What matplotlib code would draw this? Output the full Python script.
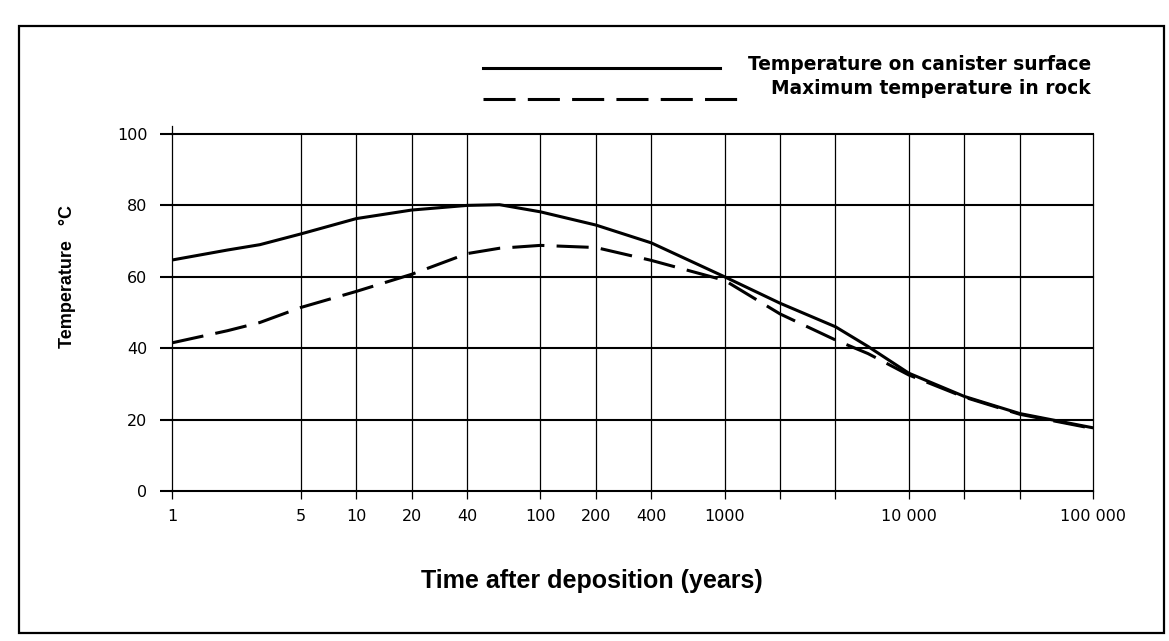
import matplotlib
matplotlib.use("Agg")
import matplotlib.pyplot as plt
from matplotlib import font_manager
from matplotlib.lines import Line2D
from matplotlib.patches import Rectangle
from matplotlib.ticker import NullLocator

# values
years = [1, 2, 3, 5, 10, 20, 40, 60, 100, 200, 400, 1000, 2000, 4000,
         6000, 10000, 20000, 40000, 100000]
canister = [64.7, 67.5, 69.0, 72.0, 76.3, 78.7, 80.0, 80.2, 78.2, 74.5,
            69.5, 60.0, 52.6, 46.0, 40.5, 33.0, 26.5, 21.7, 17.7]
rock = [41.5, 44.9, 47.2, 51.4, 55.9, 60.7, 66.5, 68.0, 68.8, 68.2,
        64.6, 59.0, 49.6, 42.3, 38.5, 32.5, 26.3, 21.5, 17.5]

grid_years = [1, 5, 10, 20, 40, 100, 200, 400, 1000, 2000, 4000,
              10000, 20000, 40000, 100000]
label_years = [1, 5, 10, 20, 40, 100, 200, 400, 1000, 10000, 100000]
label_text = ['1', '5', '10', '20', '40', '100', '200', '400', '1000',
              '10 000', '100 000']
temp_ticks = [0, 20, 40, 60, 80, 100]

W, H = 1169, 641
dash = (0, (10.5, 4))

names = {f.name for f in font_manager.fontManager.ttflist}
if 'Liberation Sans Narrow' in names:
    cond = 'Liberation Sans Narrow'
    ysize, xsize = 16.5, 21
else:
    cond = 'Liberation Sans'
    ysize, xsize = 13, 18


def fx(px):
    return px / W


def fy(py):
    return 1 - py / H


fig = plt.figure(figsize=(W / 100, H / 100), dpi=100)
fig.patch.set_facecolor('white')

ax = fig.add_axes([fx(172), fy(491), fx(1093) - fx(172), fy(134) - fy(491)])
ax.set_xscale('log')
ax.set_xlim(1, 1e5)
ax.set_ylim(0, 100)
for s in ax.spines.values():
    s.set_visible(False)

xlabels = [label_text[label_years.index(g)] if g in label_years else ''
           for g in grid_years]
ax.set_xticks(grid_years, labels=xlabels)
ax.xaxis.set_minor_locator(NullLocator())
ax.set_yticks(temp_ticks)

ax.set_axisbelow(True)
ax.grid(True, axis='x', color='black', lw=0.9)
ax.grid(True, axis='y', color='black', lw=1.5)
for gl in ax.get_xgridlines() + ax.get_ygridlines():
    gl.set_clip_on(False)
ax.tick_params(axis='y', length=8.6, width=1.5, pad=9, labelsize=11.5)
ax.tick_params(axis='x', length=5.8, width=0.9, pad=7, labelsize=11.5)
ax.axvline(1, ymin=1, ymax=1.022, color='black', lw=0.9, clip_on=False)

ax.plot(years, canister, color='black', lw=2.2,
        solid_capstyle='round', solid_joinstyle='round')
ax.plot(years, rock, color='black', lw=2.2, linestyle=dash)

ax.set_xlabel('Time after deposition (years)', family=cond,
              fontweight='bold', fontsize=xsize, va='center')
ax.xaxis.set_label_coords(0.456, -0.252)
ax.set_ylabel('Temperature   °C', family=cond, fontweight='bold',
              fontsize=ysize, va='center')
ax.yaxis.set_label_coords(-0.114, 0.60)

# legend, drawn as in the original (text flush right)
fig.add_artist(Line2D([fx(483), fx(720)], [fy(67.5), fy(67.5)],
                      color='black', lw=2.2, transform=fig.transFigure))
fig.text(fx(1091), fy(65), 'Temperature on canister surface', ha='right',
         va='center', fontweight='bold', fontsize=13.4)
fig.add_artist(Line2D([fx(483), fx(738)], [fy(99), fy(99)], color='black',
                      lw=2.2, linestyle=dash, transform=fig.transFigure))
fig.text(fx(1091), fy(89), 'Maximum temperature in rock', ha='right',
         va='center', fontweight='bold', fontsize=13.4)

# frame around the whole figure
fig.add_artist(Rectangle((fx(19), fy(633)), fx(1164) - fx(19),
                         fy(26) - fy(633), fill=False, ec='black', lw=1.6,
                         transform=fig.transFigure))

fig.savefig('out.png', dpi=100, facecolor='white')
